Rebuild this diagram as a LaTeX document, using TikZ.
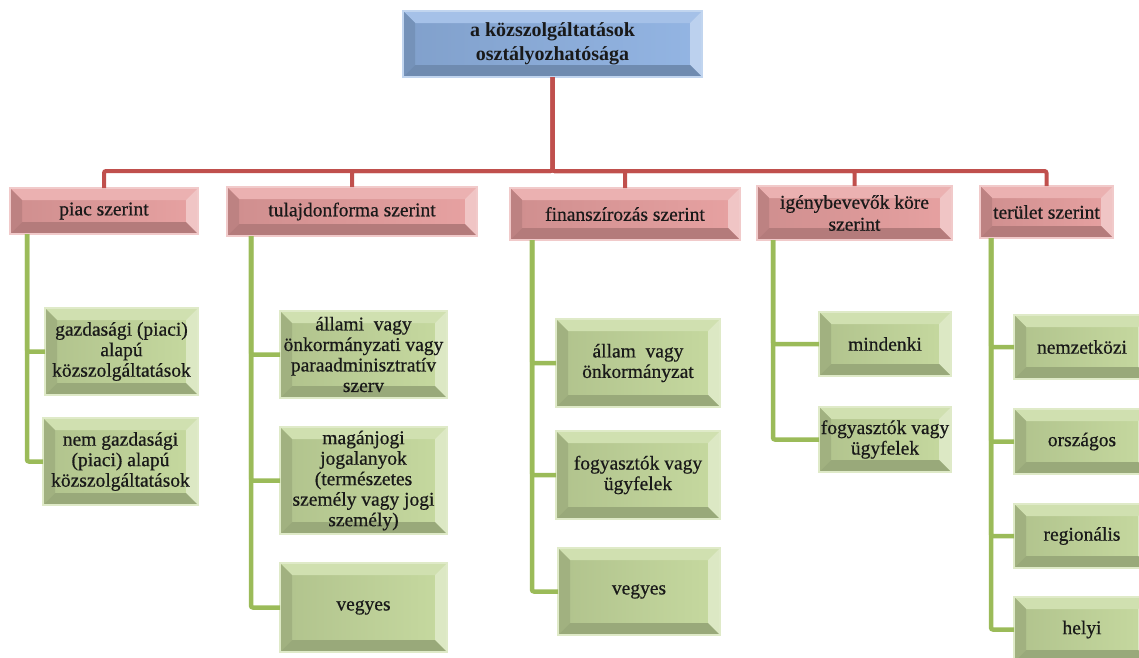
\documentclass[tikz,border=0pt]{standalone}
\usepackage{fontspec}
\setmainfont{Liberation Serif}
\newfontfamily\boxfont[FakeBold=0.6]{Liberation Serif}
\usetikzlibrary{calc}
\pgfdeclarelayer{background}
\pgfsetlayers{background,main}

\definecolor{rootc}{RGB}{143,178,226}
\definecolor{catc}{RGB}{230,158,158}
\definecolor{leafc}{RGB}{196,216,156}
\definecolor{redln}{RGB}{192,80,77}
\definecolor{greenln}{RGB}{155,187,89}

\tikzset{
  basebox/.style={inner sep=0pt, outer sep=0pt, align=center, text=black!90},
  rootbox/.style={basebox, font=\fontsize{20}{24}\selectfont\rmfamily\bfseries},
  catbox/.style={basebox, font=\fontsize{19.5}{22}\selectfont\boxfont},
  leafbox/.style={basebox, font=\fontsize{19.5}{20.5}\selectfont\boxfont},
  redlink/.style={draw=redln, line width=4pt, rounded corners=2pt},
  greenlink/.style={draw=greenln, line width=4.5pt, rounded corners=2pt},
}

% bevelled fill behind a named node
\newcommand\bevel[2]{%
  \begin{pgfonlayer}{background}
    \def\dd{12}
    \shade[left color=#2!90!black, right color=#2!96!white]
      (#1.north west) rectangle (#1.south east);
    % top face
    \fill[#2!80!white] (#1.north west) -- (#1.north east)
      -- ($(#1.north east)+(-\dd,\dd)$) -- ($(#1.north west)+(\dd,\dd)$) -- cycle;
    % left face
    \fill[#2!82!black] (#1.north west) -- (#1.south west)
      -- ($(#1.south west)+(\dd,-\dd)$) -- ($(#1.north west)+(\dd,\dd)$) -- cycle;
    % right face
    \fill[#2!60!white] (#1.north east) -- (#1.south east)
      -- ($(#1.south east)+(-\dd,-\dd)$) -- ($(#1.north east)+(-\dd,\dd)$) -- cycle;
    % bottom face
    \fill[#2!78!black] (#1.south west) -- (#1.south east)
      -- ($(#1.south east)+(-\dd,-\dd)$) -- ($(#1.south west)+(\dd,-\dd)$) -- cycle;
    \draw[#2!55!white, line width=1.2pt] (#1.north west) rectangle (#1.south east);
  \end{pgfonlayer}}

% \bx{name}{x1}{y1}{x2}{y2}{kind}{text}
\newcommand\bx[7]{%
  \node[#6box, minimum width={#4-#2}, minimum height={#5-#3}]
    (#1) at ({(#2+#4)/2},{(#3+#5)/2}) {#7};
  \bevel{#1}{#6c}}

\begin{document}
\begin{tikzpicture}[x=1pt,y=-1pt]
\useasboundingbox (0,0) rectangle (1139,657);

% top of the hierarchy
\bx{root}{403}{11}{702}{77}{root}{a közszolgáltatások\\osztályozhatósága}

% classification criteria
\bx{piac}{10}{188}{198}{234}{cat}{piac szerint}
\bx{tulaj}{227}{187}{477}{236}{cat}{tulajdonforma szerint}
\bx{finan}{510}{188}{740}{240}{cat}{finanszírozás szerint}
\bx{igeny}{757}{186}{952}{240}{cat}{igénybevevők köre\\szerint}
\bx{terul}{980}{186}{1113}{238}{cat}{terület szerint}

% piac szerint
\bx{p1}{45}{308}{198}{395}{leaf}{gazdasági (piaci)\\alapú\\közszolgáltatások}
\bx{p2}{43}{418}{198}{505}{leaf}{nem gazdasági\\(piaci) alapú\\közszolgáltatások}

% tulajdonforma szerint
\bx{t1}{280}{311}{447}{398}{leaf}{állami\ \ vagy\\önkormányzati vagy\\paraadminisztratív\\szerv}
\bx{t2}{280}{427}{447}{534}{leaf}{magánjogi\\jogalanyok\\(természetes\\személy vagy jogi\\személy)}
\bx{t3}{280}{563}{447}{652}{leaf}{vegyes}

% finanszírozás szerint
\bx{f1}{556}{319}{720}{407}{leaf}{állam\ \ vagy\\önkormányzat}
\bx{f2}{556}{431}{720}{519}{leaf}{fogyasztók vagy\\ügyfelek}
\bx{f3}{558}{548}{720}{635}{leaf}{vegyes}

% igénybevevők köre szerint
\bx{i1}{819}{312}{951}{376}{leaf}{mindenki}
\bx{i2}{819}{407}{951}{472}{leaf}{fogyasztók vagy\\ügyfelek}

% terület szerint
\bx{r1}{1014}{315}{1150}{379}{leaf}{nemzetközi}
\bx{r2}{1014}{409}{1150}{474}{leaf}{országos}
\bx{r3}{1014}{504}{1150}{568}{leaf}{regionális}
\bx{r4}{1014}{597}{1150}{662}{leaf}{helyi}

% red connectors from the top box
\begin{pgfonlayer}{background}
\foreach \c in {piac,tulaj,finan,igeny,terul}
  \draw[redlink] (root.south) -- ++(0,94) -| (\c.north);

% green connectors hanging from the left of each criterion
\coordinate (vp) at (27,234);
\coordinate (vt) at (251,236);
\coordinate (vf) at (532,240);
\coordinate (vi) at (773,240);
\coordinate (vr) at (991,238);
\foreach \c in {p1,p2} \draw[greenlink] (vp) |- (\c.west);
\foreach \c in {t1,t2,t3} \draw[greenlink] (vt) |- (\c.west);
\foreach \c in {f1,f2,f3} \draw[greenlink] (vf) |- (\c.west);
\foreach \c in {i1,i2} \draw[greenlink] (vi) |- (\c.west);
\foreach \c in {r1,r2,r3,r4} \draw[greenlink] (vr) |- (\c.west);
\end{pgfonlayer}
\end{tikzpicture}
\end{document}
